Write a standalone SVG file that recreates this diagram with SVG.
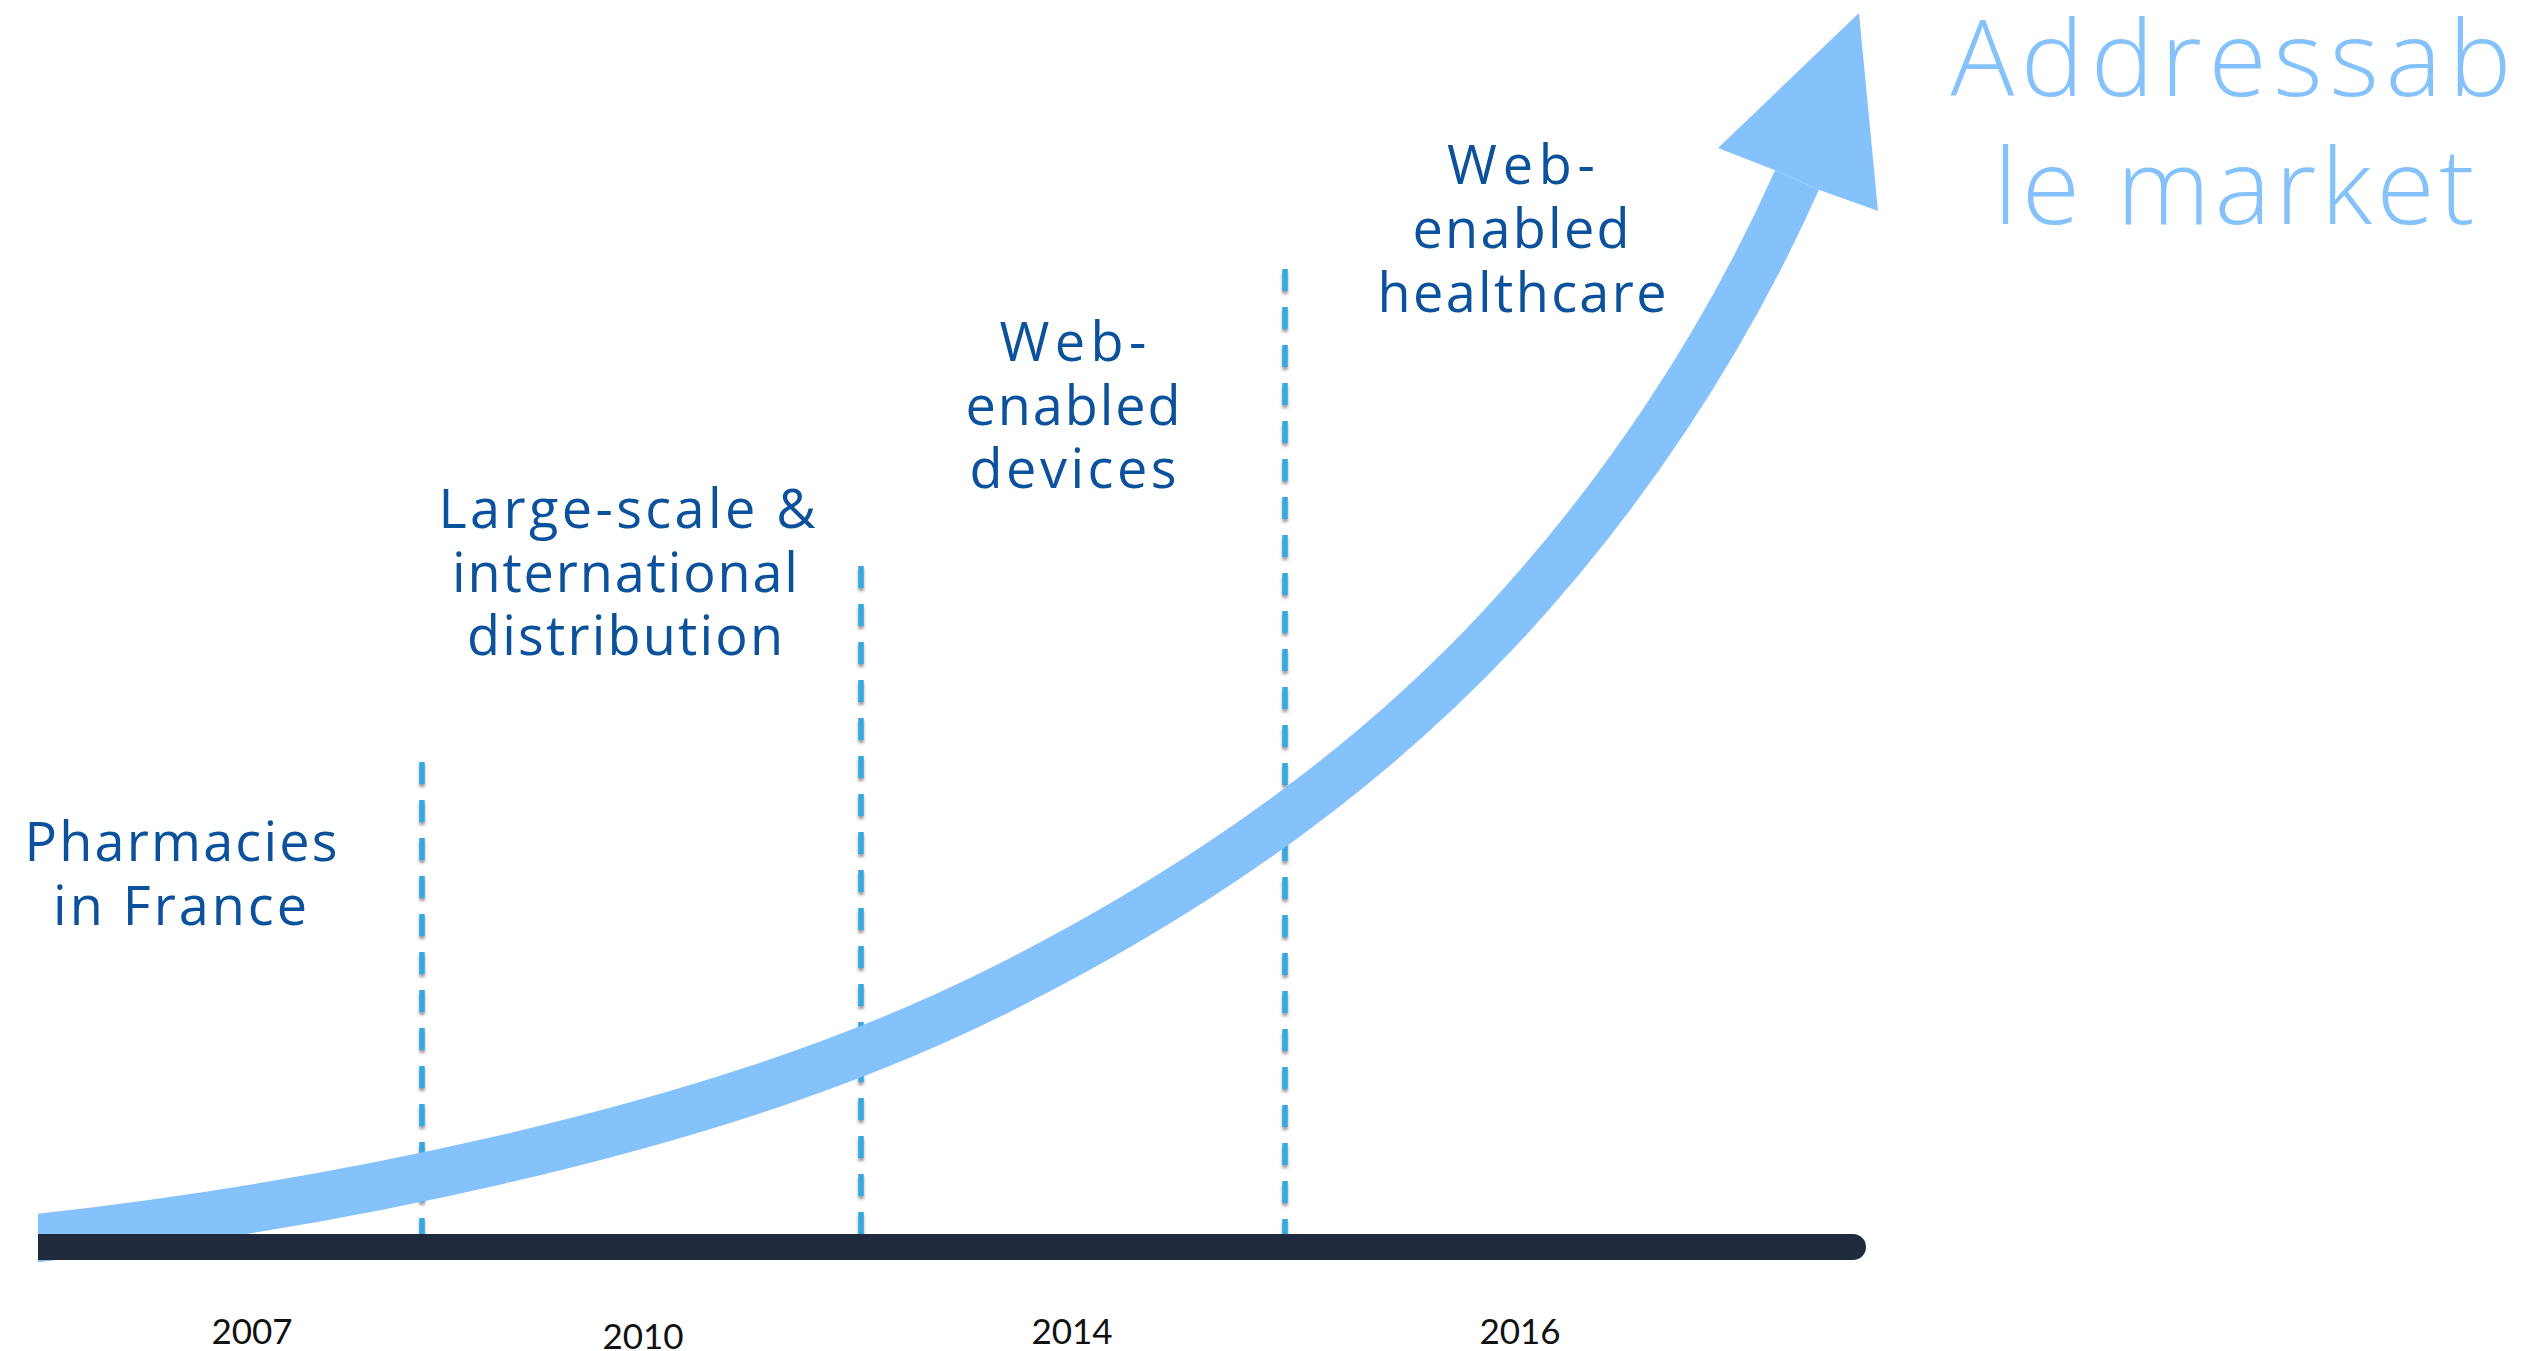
<svg xmlns="http://www.w3.org/2000/svg" width="2545" height="1351" viewBox="0 0 2545 1351">
<defs>
<style>
.lbl{font-family:"Open Sans","Lato","Liberation Sans",sans-serif;font-size:54px;fill:#0B519C;text-anchor:middle}
.title{font-family:"Open Sans","Lato","Liberation Sans",sans-serif;font-weight:300;font-size:106px;fill:#85C2FC;text-anchor:middle}
.year{font-family:"Lato","Liberation Sans",sans-serif;font-size:35px;fill:#111;text-anchor:middle}
.dash{stroke:#35A8E0;stroke-width:5.5;stroke-dasharray:22 16;fill:none;filter:url(#sh)}
</style>
<filter id="sh" filterUnits="userSpaceOnUse" x="0" y="0" width="2545" height="1351">
<feDropShadow dx="0" dy="3" stdDeviation="1.5" flood-color="#444" flood-opacity="0.55"/>
</filter>
<clipPath id="clipL"><rect x="38" y="0" width="2507" height="1351"/></clipPath>
</defs>
<rect width="2545" height="1351" fill="#fff"/>
<g id="connectors">
<line class="dash" x1="422" y1="762" x2="422" y2="1234"/>
<line class="dash" x1="861" y1="566" x2="861" y2="1234"/>
<line class="dash" x1="1285" y1="269" x2="1285" y2="1234"/>
<g id="growth-arrow" clip-path="url(#clipL)">
<path d="M0,1242 C168,1225 335.4,1198 500,1160 C671.4,1120.4 842.7,1068.7 1000,990 C1184.2,897.9 1359.5,778.6 1500,628 C1622.1,497.2 1724.2,343.6 1797,180" fill="none" stroke="#85C2FC" stroke-width="48"/>
<polygon points="1859,13 1718,148 1775.1,170.2 1818.9,189.8 1878,211" fill="#85C2FC"/>
</g>
<path id="axis" d="M38,1234 H1853 A13,13 0 0 1 1853,1260 H38 Z" fill="#1F2A3D"/>
</g>
<g id="node-pharmacies">
<text class="lbl" x="181" y="861" textLength="313" lengthAdjust="spacing">Pharmacies</text>
<text class="lbl" x="180" y="925" textLength="254" lengthAdjust="spacing">in France</text>
</g>
<g id="node-large-scale">
<text class="lbl" x="627" y="528" textLength="377" lengthAdjust="spacing">Large-scale &amp;</text>
<text class="lbl" x="625" y="592" textLength="346" lengthAdjust="spacing">international</text>
<text class="lbl" x="625" y="655" textLength="316" lengthAdjust="spacing">distribution</text>
</g>
<g id="node-devices">
<text class="lbl" x="1073" y="361" textLength="147" lengthAdjust="spacing">Web-</text>
<text class="lbl" x="1073" y="425" textLength="215" lengthAdjust="spacing">enabled</text>
<text class="lbl" x="1073" y="488" textLength="207" lengthAdjust="spacing">devices</text>
</g>
<g id="node-healthcare">
<text class="lbl" x="1521" y="184" textLength="148" lengthAdjust="spacing">Web-</text>
<text class="lbl" x="1521" y="248" textLength="217" lengthAdjust="spacing">enabled</text>
<text class="lbl" x="1522" y="312" textLength="289" lengthAdjust="spacing">healthcare</text>
</g>
<g id="node-title">
<text class="title" x="2231" y="96" textLength="561" lengthAdjust="spacing">Addressab</text>
<text class="title" x="2234" y="224" textLength="481" lengthAdjust="spacing">le market</text>
</g>
<g id="years">
<text class="year" x="252" y="1344">2007</text>
<text class="year" x="643" y="1349">2010</text>
<text class="year" x="1072" y="1344">2014</text>
<text class="year" x="1520" y="1344">2016</text>
</g>
</svg>
